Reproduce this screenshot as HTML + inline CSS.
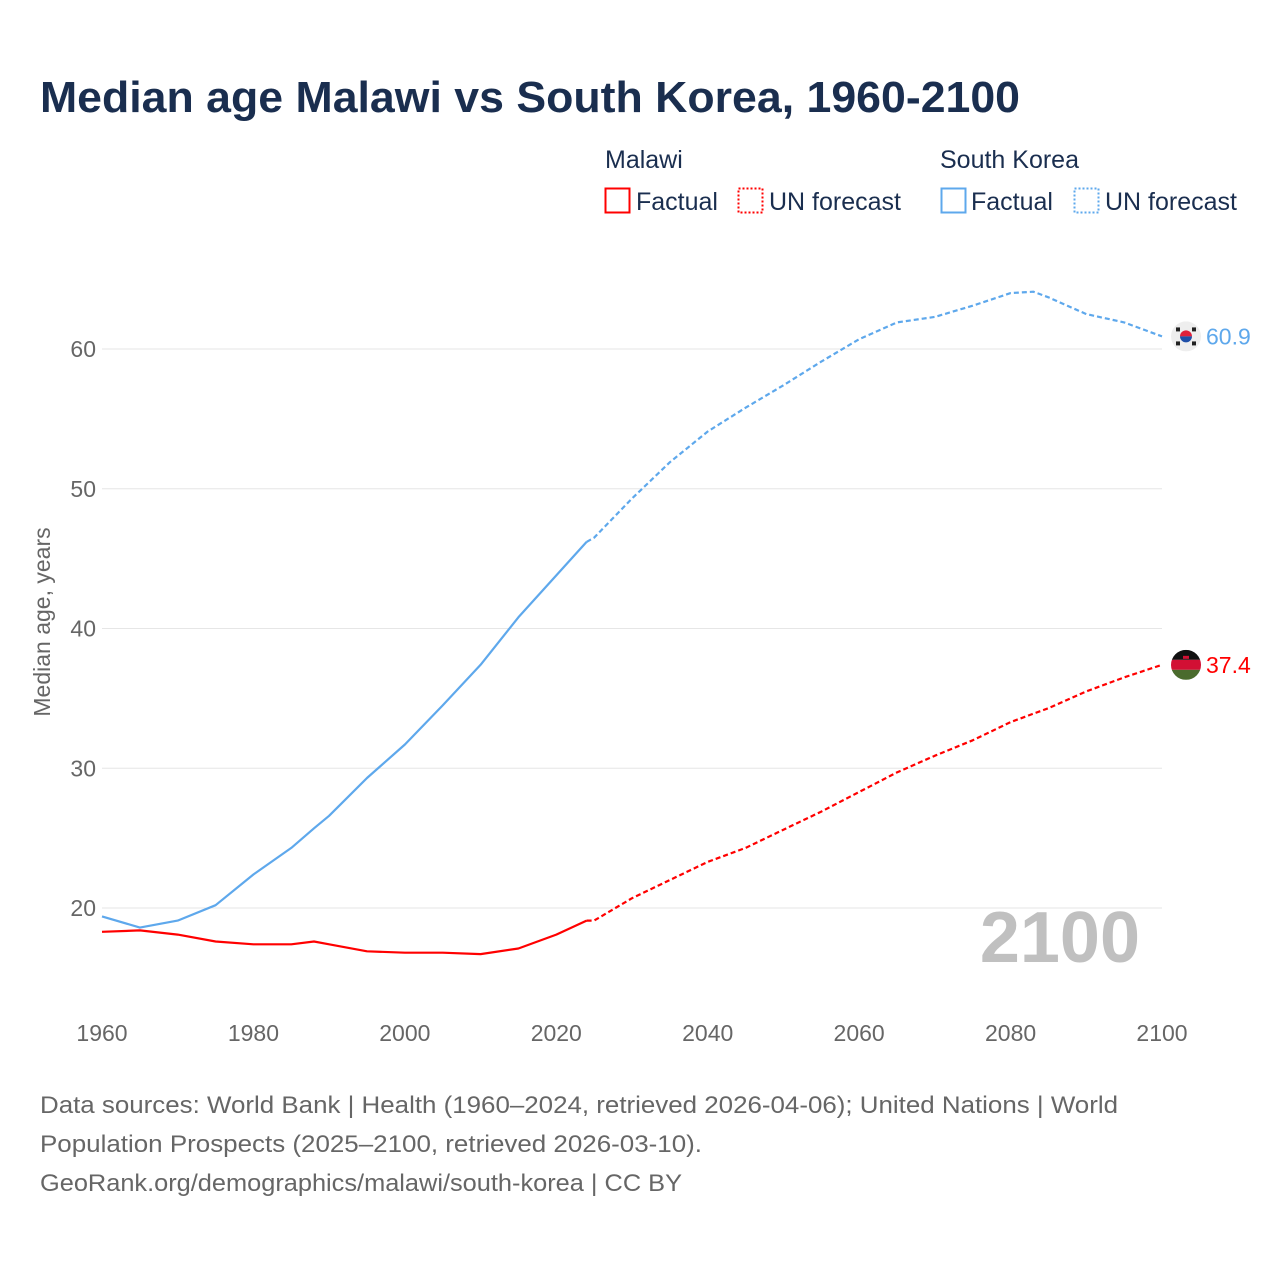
<!DOCTYPE html>
<html><head><meta charset="utf-8"><style>
html,body{margin:0;padding:0;background:#fff;}
svg{display:block;font-family:"Liberation Sans",sans-serif;}
</style></head><body>
<svg id="chart" width="1280" height="1280" viewBox="0 0 1280 1280">
<text x="40" y="112" font-size="44" font-weight="bold" fill="#1a2e4f" textLength="980" lengthAdjust="spacingAndGlyphs">Median age Malawi vs South Korea, 1960-2100</text>
<g font-size="25" fill="#1a2e4f">
<text x="605" y="168">Malawi</text>
<text x="940" y="168">South Korea</text>
<g><rect x="605.5" y="188.5" width="24" height="24" fill="none" stroke="#ff0000" stroke-width="2"/><text x="636" y="210">Factual</text></g>
<g><rect x="738.5" y="188.5" width="24" height="24" fill="none" stroke="#ff0000" stroke-width="2" stroke-dasharray="2 2"/><text x="769" y="210">UN forecast</text></g>
<g><rect x="941.5" y="188.5" width="24" height="24" fill="none" stroke="#5ea8ec" stroke-width="2"/><text x="971" y="210">Factual</text></g>
<g><rect x="1074.5" y="188.5" width="24" height="24" fill="none" stroke="#5ea8ec" stroke-width="2" stroke-dasharray="2 2"/><text x="1105" y="210">UN forecast</text></g>
</g>
<defs><clipPath id="kc"><circle id="kcc" cx="0" cy="0" r="15"/></clipPath><clipPath id="mc"><circle id="mcc" cx="0" cy="0" r="15"/></clipPath></defs>
<g id="grid"></g>
<g id="yticks"></g>
<g id="xticks"></g>
<text transform="translate(50,622) rotate(-90)" text-anchor="middle" font-size="23" fill="#666">Median age, years</text>
<text x="1140" y="962" text-anchor="end" font-size="72" font-weight="bold" fill="#c0c0c0">2100</text>
<g id="series"></g>
<g font-size="24" fill="#666">
<text x="40" y="1113" textLength="1078" lengthAdjust="spacingAndGlyphs">Data sources: World Bank | Health (1960–2024, retrieved 2026-04-06); United Nations | World</text>
<text x="40" y="1152" textLength="662" lengthAdjust="spacingAndGlyphs">Population Prospects (2025–2100, retrieved 2026-03-10).</text>
<text x="40" y="1191" textLength="642" lengthAdjust="spacingAndGlyphs">GeoRank.org/demographics/malawi/south-korea | CC BY</text>
</g>
</svg>
<script>
const yearsFactual = [1960,1965,1970,1975,1980,1985,1988,1990,1995,2000,2005,2010,2015,2020,2024];
const koreaFactual = [19.4,18.6,19.1,20.2,22.4,24.3,25.7,26.6,29.3,31.7,34.5,37.4,40.8,43.8,46.2];
const malawiFactual = [18.3,18.4,18.1,17.6,17.4,17.4,17.6,17.4,16.9,16.8,16.8,16.7,17.1,18.1,19.1];
const yearsForecast = [2024,2025,2030,2035,2040,2045,2050,2055,2060,2065,2070,2075,2080,2083,2085,2090,2095,2100];
const koreaForecast = [46.2,46.5,49.3,51.9,54.1,55.8,57.4,59.1,60.7,61.9,62.3,63.1,64.0,64.1,63.7,62.5,61.9,60.9];
const malawiForecast = [19.1,19.1,20.7,22.0,23.3,24.3,25.6,26.9,28.3,29.7,30.9,32.0,33.3,33.9,34.3,35.5,36.5,37.4];
const yTicks = [20,30,40,50,60];
const xTicks = [1960,1980,2000,2020,2040,2060,2080,2100];
const ns='http://www.w3.org/2000/svg';
const x = yr => 102 + (yr-1960)*(1060/140);
const y = v => 908 - (v-20)*13.975;
function mk(tag, attrs, parent){const e=document.createElementNS(ns,tag);for(const k in attrs)e.setAttribute(k,attrs[k]);parent.appendChild(e);return e;}
const grid=document.getElementById('grid'), yt=document.getElementById('yticks'), xt=document.getElementById('xticks'), ser=document.getElementById('series');
yTicks.forEach(t=>{
  const l=mk('line',{x1:102,x2:1162,y1:y(t),y2:y(t),stroke:'#e6e6e6','stroke-width':1},grid);
  
  
  const tx=mk('text',{x:96,y:y(t)+8,'text-anchor':'end','font-size':23,fill:'#666'},yt);
  tx.textContent=t;
  
  
});
xTicks.forEach(t=>{
  const tx=mk('text',{x:x(t),y:1041,'text-anchor':'middle','font-size':23,fill:'#666'},xt);
  tx.textContent=t;
  
  
});
function line(years, vals, color, dashed, name){
  const d=years.map((yr,i)=>(i?'L':'M')+x(yr).toFixed(1)+','+y(vals[i]).toFixed(1)).join('');
  const p=mk('path',{d:d,fill:'none',stroke:color,'stroke-width':2.2,'stroke-linejoin':'round'},ser);
  if(dashed)p.setAttribute('stroke-dasharray','5 3');
  
  
}
line(yearsFactual,koreaFactual,'#5ea8ec',false,'korea-factual-line');
line(yearsForecast,koreaForecast,'#5ea8ec',true,'korea-forecast-line');
line(yearsFactual,malawiFactual,'#ff0000',false,'malawi-factual-line');
line(yearsForecast,malawiForecast,'#ff0000',true,'malawi-forecast-line');
const kv=koreaForecast[koreaForecast.length-1], mv=malawiForecast[malawiForecast.length-1];
const ky=y(kv), my=y(mv), fx=1186;
document.getElementById('kcc').setAttribute('cx',fx);
document.getElementById('kcc').setAttribute('cy',ky);
document.getElementById('mcc').setAttribute('cx',fx);
document.getElementById('mcc').setAttribute('cy',my);
const kg=mk('g',{'clip-path':'url(#kc)'},ser);


mk('rect',{x:fx-15,y:ky-15,width:30,height:30,fill:'#eeeeee'},kg);
mk('path',{d:`M${fx-6},${ky} A6,6 0 0 1 ${fx+6},${ky} Z`,fill:'#e0203a'},kg);
mk('path',{d:`M${fx-6},${ky} A6,6 0 0 0 ${fx+6},${ky} Z`,fill:'#1f4fa8'},kg);
[[-8,-7],[8,-7],[-8,7],[8,7]].forEach(o=>mk('rect',{x:fx+o[0]-2,y:ky+o[1]-2,width:4,height:4,fill:'#222'},kg));
const mg=mk('g',{'clip-path':'url(#mc)'},ser);


mk('rect',{x:fx-15,y:my-15,width:30,height:10,fill:'#111'},mg);
mk('rect',{x:fx-15,y:my-5,width:30,height:10,fill:'#d21034'},mg);
mk('rect',{x:fx-15,y:my+5,width:30,height:10,fill:'#4a6b2d'},mg);
mk('rect',{x:fx-3,y:my-9,width:6,height:3,fill:'#d21034'},mg);
const kl=mk('text',{x:1206,y:ky+8,'font-size':23,fill:'#5ea8ec'},ser);
kl.textContent=kv.toFixed(1);


const ml=mk('text',{x:1206,y:my+8,'font-size':23,fill:'#ff0000'},ser);
ml.textContent=mv.toFixed(1);


</script>
</body></html>
